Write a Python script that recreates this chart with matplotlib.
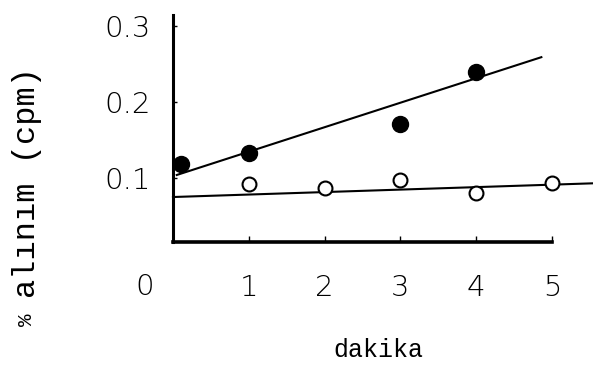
import matplotlib.pyplot as plt

# readings (minutes vs % uptake)
filled_x = [0.1, 1, 3, 4]
filled_y = [0.118, 0.133, 0.171, 0.239]
open_x = [1, 2, 3, 4, 5]
open_y = [0.092, 0.087, 0.097, 0.080, 0.093]

# drawn trend lines (end points)
upper_x = [0.05, 4.86]
upper_y = [0.104, 0.259]
lower_x = [0, 5.53]
lower_y = [0.075, 0.093]

xticks = [1, 2, 3, 4, 5]
yticks = [0.1, 0.2, 0.3]
ytick_labels = ['0.1', '0.2', '0.3']

num_font = dict(family='DejaVu Sans', weight='light')

fig = plt.figure(figsize=(5.93, 3.74), dpi=100)
ax = fig.add_axes([0.2917, 0.3529, 0.6391, 0.607])

ax.plot(upper_x, upper_y, color='black', lw=1.5, clip_on=False)
ax.plot(lower_x, lower_y, color='black', lw=1.5, clip_on=False)
ax.plot(filled_x, filled_y, 'o', color='black', markersize=11.5, clip_on=False)
ax.plot(open_x, open_y, 'o', mfc='white', mec='black', mew=1.5,
        markersize=10, clip_on=False, zorder=3)

ax.set_xlim(0, 5)
ax.set_ylim(0.0158, 0.3145)
for s in ['top', 'right']:
    ax.spines[s].set_visible(False)
ax.spines['left'].set_linewidth(2.2)
ax.spines['bottom'].set_linewidth(2.6)

ax.set_xticks(xticks)
ax.set_xticklabels([str(t) for t in xticks], fontdict=num_font)
ax.set_yticks(yticks)
ax.set_yticklabels(ytick_labels, fontdict=num_font)
ax.tick_params(axis='x', direction='in', length=4, width=1, pad=23, labelsize=21)
ax.tick_params(axis='y', direction='in', length=3, width=1, pad=16, labelsize=21)

fig.text(145 / 593, 1 - 287 / 374, '0', fontsize=21, ha='center', va='center',
         **num_font)
fig.text(27 / 593, 1 - 183 / 374, 'alınım (cpm)', family='Liberation Mono',
         fontsize=23, rotation=90, ha='center', va='center')
fig.text(27 / 593, 1 - 320 / 374, '%', family='Liberation Mono',
         fontsize=15, rotation=90, ha='center', va='center')
fig.text(378 / 593, 1 - 350 / 374, 'dakika', family='Liberation Mono',
         fontsize=18, ha='center', va='center')

fig.savefig('out.png', dpi=100)
